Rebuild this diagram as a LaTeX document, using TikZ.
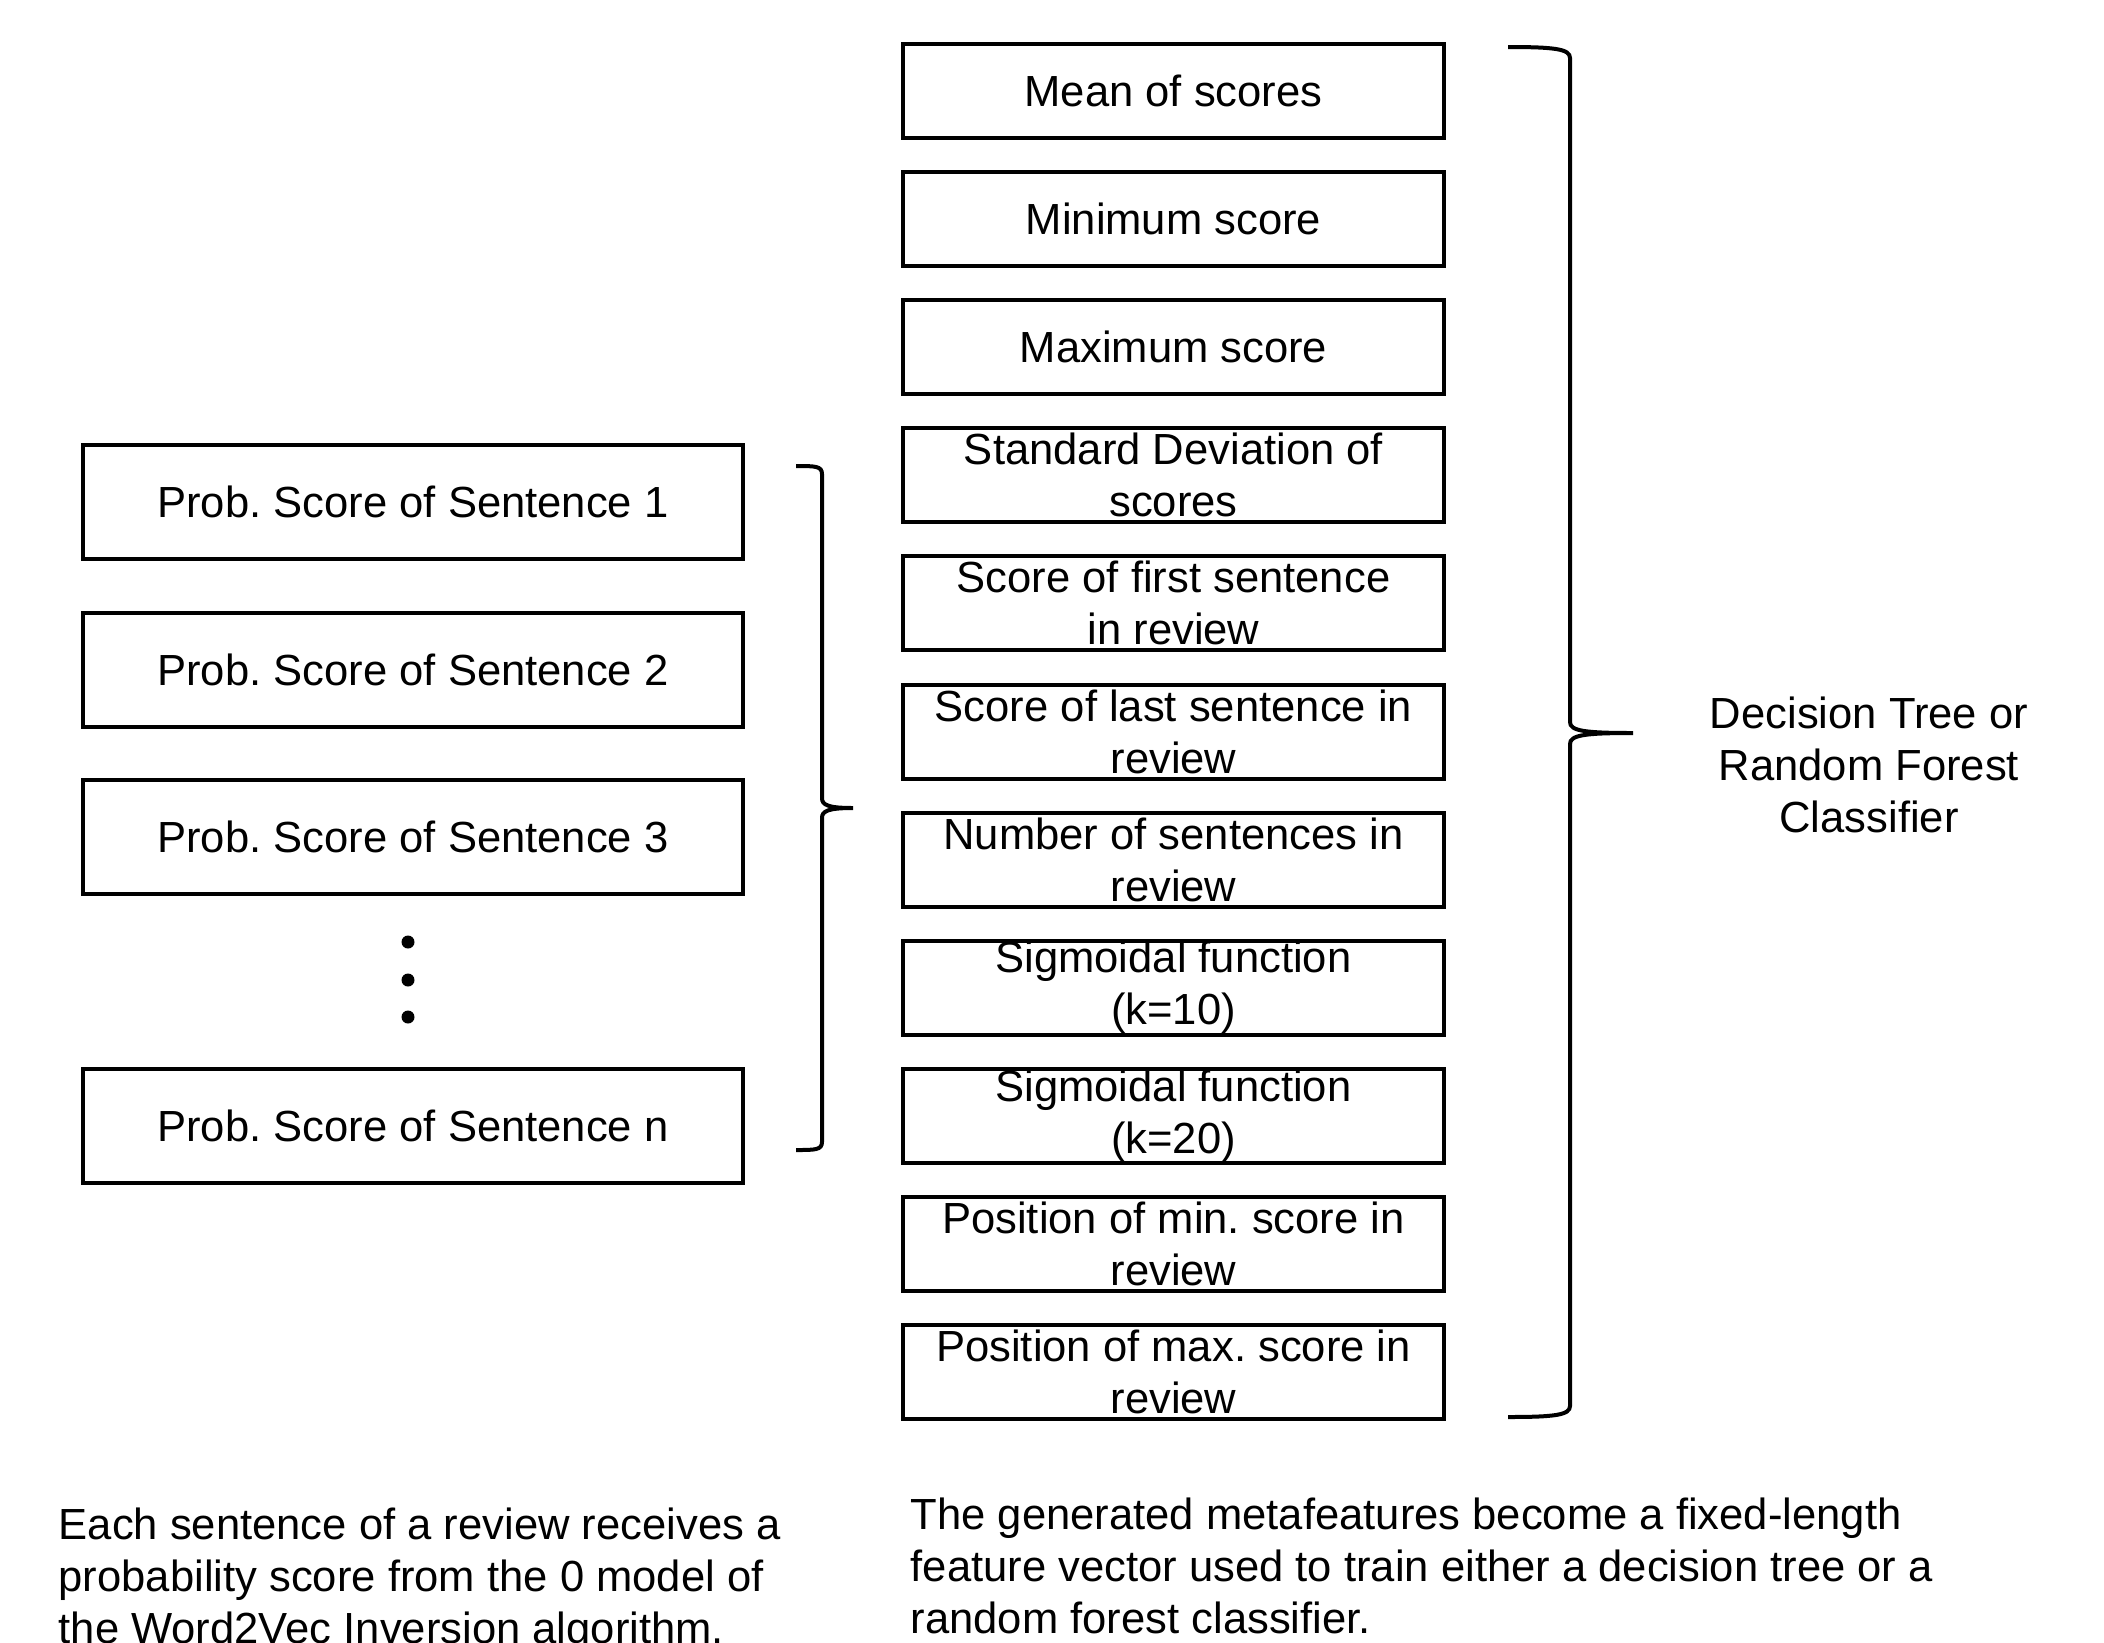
\documentclass[tikz,border=0pt]{standalone}
\usepackage{fontspec}
\setmainfont{Liberation Sans}
\usetikzlibrary{positioning}
\frenchspacing

\tikzset{
	txt/.style={font=\fontsize{12.4}{14.8}\selectfont},
	prob/.style={txt, draw, line width=0.4mm, outer sep=0pt, minimum width=66mm, minimum height=11.4mm, inner sep=0pt},
	feat/.style={txt, draw, line width=0.4mm, outer sep=0pt, minimum width=54.1mm, minimum height=9.4mm, inner xsep=0pt, inner ysep=-3pt, align=center},
	dotn/.style={circle, fill, inner sep=0pt, minimum size=1.3mm},
	brace/.style={line width=0.4mm}
}

\begin{document}
\begin{tikzpicture}[x=0.1mm, y=-0.1mm]
	\useasboundingbox (0,0) rectangle (2104,1643);

	% sentence scores
	\node[prob] (p1) at (413,501.5) {Prob. Score of Sentence 1};
	\node[prob, below=5.4mm of p1] (p2) {Prob. Score of Sentence 2};
	\node[prob, below=5.3mm of p2] (p3) {Prob. Score of Sentence 3};
	\node[dotn] (d1) at (408,942) {};
	\node[dotn] (d2) at (408,980) {};
	\node[dotn] (d3) at (408,1017) {};
	\node[prob] (pn) at (413,1126) {Prob. Score of Sentence n};

	% metafeatures
	\node[feat] (f1) at (1173.5,91) {Mean of scores};
	\node[feat, below=3.41mm of f1] (f2) {Minimum score};
	\node[feat, below=3.41mm of f2] (f3) {Maximum score};
	\node[feat, below=3.41mm of f3] (f4) {Standard Deviation of\\scores};
	\node[feat, below=3.41mm of f4] (f5) {Score of first sentence\\in review};
	\node[feat, below=3.41mm of f5] (f6) {Score of last sentence in\\review};
	\node[feat, below=3.41mm of f6] (f7) {Number of sentences in\\review};
	\node[feat, below=3.41mm of f7] (f8) {Sigmoidal function\\(k=10)};
	\node[feat, below=3.41mm of f8] (f9) {Sigmoidal function\\(k=20)};
	\node[feat, below=3.41mm of f9] (f10) {Position of min. score in\\review};
	\node[feat, below=3.41mm of f10] (f11) {Position of max. score in\\review};

	% braces
	\coordinate (lb1) at (796,466);
	\coordinate (lb2) at (796,1150);
	\coordinate (lbt) at (853,808);
	\draw[brace] (lb1) .. controls (815,466) and (822,466) .. (822,474)
		-- (822,798) .. controls (822,805) and (828,808) .. (lbt)
		.. controls (828,808) and (822,811) .. (822,818)
		-- (822,1142) .. controls (822,1150) and (815,1150) .. (lb2);
	\coordinate (rb1) at (1508,47);
	\coordinate (rb2) at (1508,1417);
	\coordinate (rbt) at (1633,733);
	\draw[brace] (rb1) .. controls (1555,47) and (1570,49) .. (1570,58)
		-- (1570,722) .. controls (1570,731) and (1585,733) .. (rbt)
		.. controls (1585,733) and (1570,735) .. (1570,744)
		-- (1570,1406) .. controls (1570,1415) and (1555,1417) .. (rb2);

	\node[txt, align=center] (cls) at (1869,765) {Decision Tree or\\Random Forest\\Classifier};

	% captions
	\node[txt, align=left, anchor=north west, inner sep=0pt] (capl) at (58,1507)
		{Each sentence of a review receives a\\probability score from the 0 model of\\the Word2Vec Inversion algorithm.};
	\node[txt, align=left, anchor=north west, inner sep=0pt] (capr) at (910,1497)
		{The generated metafeatures become a fixed-length\\feature vector used to train either a decision tree or a\\random forest classifier.};
\end{tikzpicture}
\end{document}
